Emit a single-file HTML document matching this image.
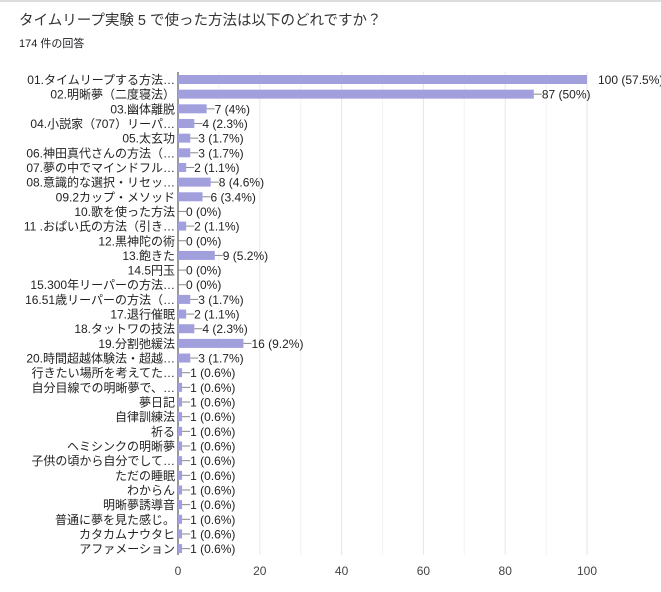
<!DOCTYPE html>
<html><head><meta charset="utf-8"><style>
body{margin:0;background:#fff;width:661px;height:587px;overflow:hidden;font-family:"Liberation Sans","Noto Sans CJK JP",sans-serif}
</style></head><body>
<svg width="661" height="587" xmlns="http://www.w3.org/2000/svg" font-family="Liberation Sans, Noto Sans CJK JP, sans-serif">
<rect x="0" y="0" width="661" height="2" fill="#ddd"/>
<text x="19" y="25" font-size="14.5" fill="#333">タイムリープ実験 5 で使った方法は以下のどれですか？</text>
<text x="19" y="47" font-size="11" fill="#202124">174 件の回答</text>
<g id="grid"></g>
<g id="rows"></g>
</svg>
<script>
const data=[["01.タイムリープする方法…",100,"57.5%"],["02.明晰夢（二度寝法）",87,"50%"],["03.幽体離脱",7,"4%"],["04.小説家（707）リーパ…",4,"2.3%"],["05.太玄功",3,"1.7%"],["06.神田真代さんの方法（…",3,"1.7%"],["07.夢の中でマインドフル…",2,"1.1%"],["08.意識的な選択・リセッ…",8,"4.6%"],["09.2カップ・メソッド",6,"3.4%"],["10.歌を使った方法",0,"0%"],["11 .おぱい氏の方法（引き…",2,"1.1%"],["12.黒神陀の術",0,"0%"],["13.飽きた",9,"5.2%"],["14.5円玉",0,"0%"],["15.300年リーパーの方法…",0,"0%"],["16.51歳リーパーの方法（…",3,"1.7%"],["17.退行催眠",2,"1.1%"],["18.タットワの技法",4,"2.3%"],["19.分割弛緩法",16,"9.2%"],["20.時間超越体験法・超越…",3,"1.7%"],["行きたい場所を考えてた…",1,"0.6%"],["自分目線での明晰夢で、…",1,"0.6%"],["夢日記",1,"0.6%"],["自律訓練法",1,"0.6%"],["祈る",1,"0.6%"],["ヘミシンクの明晰夢",1,"0.6%"],["子供の頃から自分でして…",1,"0.6%"],["ただの睡眠",1,"0.6%"],["わからん",1,"0.6%"],["明晰夢誘導音",1,"0.6%"],["普通に夢を見た感じ。",1,"0.6%"],["カタカムナウタヒ",1,"0.6%"],["アファメーション",1,"0.6%"]];
const X0=178,S=4.09,Y0=79.5,D=14.66;let g='',r='';
for(let k=1;k<=10;k++){const x=X0+k*10*S;g+=`<line x1="${x}" y1="72" x2="${x}" y2="555" stroke="${k%2?'#f3f3f3':'#e6e6e6'}"/>`;}
for(let k=0;k<=5;k++){const x=X0+k*20*S;g+=`<text x="${x}" y="575" font-size="12" fill="#444" text-anchor="middle">${k*20}</text>`;}
g+=`<line x1="${X0}" y1="72" x2="${X0}" y2="555" stroke="#333"/>`;
data.forEach((d,i)=>{const y=Y0+i*D,w=d[1]*S;
r+=`<text x="175" y="${y+4.5}" font-size="12" fill="#222" text-anchor="end">${d[0]}</text>`;
if(w>0)r+=`<rect x="${X0}" y="${y-4.5}" width="${w}" height="9" fill="#a29fdd"/>`;
if(d[1]==100){r+=`<text x="598" y="${y+4.5}" font-size="12" fill="#222">100 (${d[2]})</text>`;}
else{const e=X0+w;r+=`<line x1="${e}" y1="${y}" x2="${e+8}" y2="${y}" stroke="#888"/><text x="${e+8}" y="${y+4.5}" font-size="12" fill="#222">${d[1]} (${d[2]})</text>`;}
});
document.getElementById('grid').outerHTML=g;document.getElementById('rows').outerHTML=r;
</script>
</body></html>
